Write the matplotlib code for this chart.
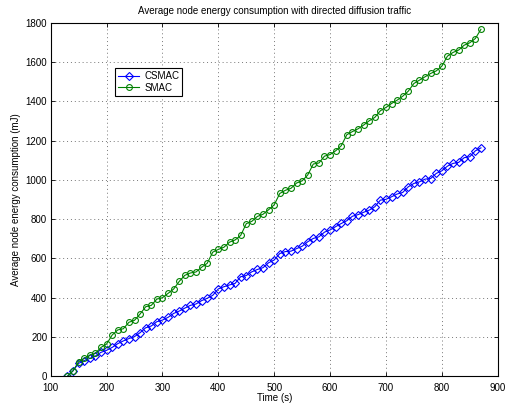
import matplotlib
matplotlib.use("Agg")
import matplotlib.pyplot as plt

plt.rcParams['font.family'] = ['Liberation Sans', 'DejaVu Sans']

time_s = list(range(130, 871, 10))

csmac = [0, 28, 66, 80, 91, 103, 122, 132, 147, 166,
         180, 192, 202, 222, 247, 256, 278, 286, 300, 320,
         332, 347, 361, 368, 385, 397, 412, 445, 456, 465,
         473, 507, 513, 532, 544, 553, 578, 592, 625, 635,
         637, 650, 662, 685, 702, 710, 734, 745, 762, 778,
         792, 815, 823, 835, 846, 863, 897, 901, 914, 928,
         936, 965, 982, 990, 1004, 1007, 1033, 1046, 1070, 1084,
         1089, 1113, 1118, 1148, 1163]

smac = [0, 28, 74, 91, 107, 117, 147, 164, 210, 236,
        242, 275, 285, 317, 354, 361, 393, 400, 422, 444,
        483, 514, 526, 531, 555, 575, 632, 646, 657, 683,
        694, 717, 777, 789, 814, 825, 848, 873, 931, 947,
        957, 984, 995, 1025, 1081, 1086, 1121, 1129, 1148, 1174,
        1230, 1246, 1260, 1279, 1301, 1318, 1352, 1369, 1389, 1406,
        1426, 1452, 1491, 1508, 1525, 1542, 1555, 1579, 1630, 1649,
        1661, 1686, 1698, 1720, 1767]

x_ticks = list(range(100, 901, 100))
y_ticks = list(range(0, 1801, 200))

fig = plt.figure(figsize=(5.06, 4.07), dpi=100)
ax = fig.add_axes([0.1002, 0.0755, 0.8834, 0.8685])

ax.plot(time_s, csmac, color=(0, 0, 1), marker='D', markersize=3.6,
        markerfacecolor='none', markeredgewidth=0.8, linewidth=0.8, label='CSMAC')
ax.plot(time_s, smac, color=(0, 0.5, 0), marker='o', markersize=4.2,
        markerfacecolor='none', markeredgewidth=0.8, linewidth=0.8, label='SMAC')

ax.set_xlim(100, 900)
ax.set_ylim(0, 1800)
ax.set_xticks(x_ticks)
ax.set_yticks(y_ticks)
ax.tick_params(direction='in', top=True, right=True, labelsize=7, length=3, width=0.6)
ax.tick_params(axis='x', pad=4.5)
ax.tick_params(axis='y', pad=2.5)
ax.grid(True, linestyle=(0, (1, 3)), color='#777777', linewidth=0.7)
for s in ax.spines.values():
    s.set_linewidth(0.8)

ax.set_title('Average node energy consumption with directed diffusion traffic', fontsize=7, pad=6)
ax.set_xlabel('Time (s)', fontsize=7, labelpad=0)
ax.set_ylabel('Average node energy consumption (mJ)', fontsize=7, labelpad=3)

leg = ax.legend(loc='upper left', bbox_to_anchor=(0.144, 0.872), borderaxespad=0,
                fontsize=7, fancybox=False, edgecolor='black', framealpha=1,
                handlelength=2.2, borderpad=0.3, labelspacing=0.2, handletextpad=0.5)
leg.get_frame().set_linewidth(0.8)

fig.savefig('out.png', dpi=100)
